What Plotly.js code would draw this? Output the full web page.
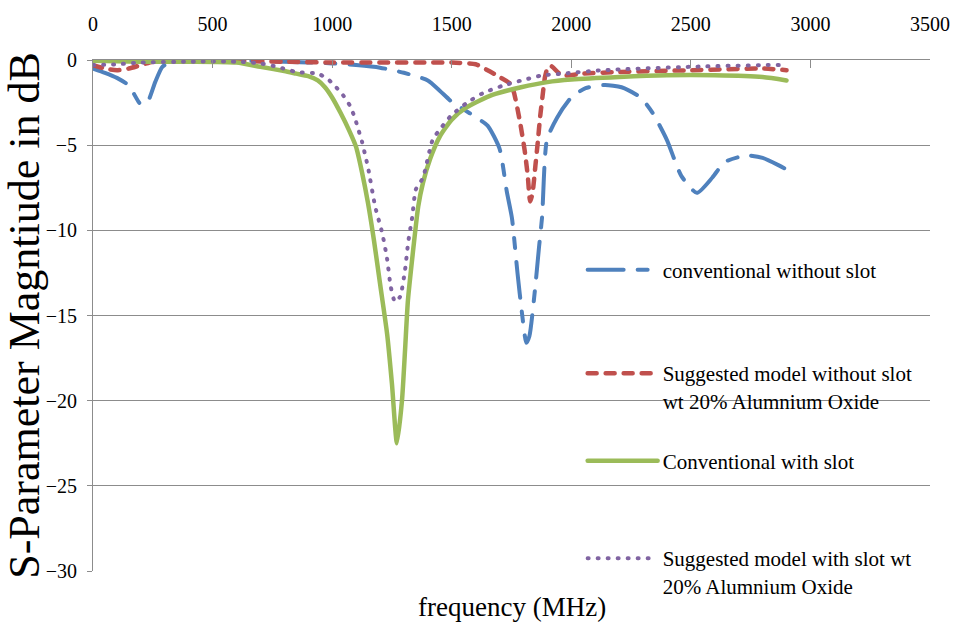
<!DOCTYPE html>
<html><head><meta charset="utf-8">
<script src="https://cdn.plot.ly/plotly-3.0.1.min.js"></script>
<style>
html,body{margin:0;padding:0;background:#fff;}
#chart{width:954px;height:630px;}
.js-line{stroke-linecap:round;}
</style>
</head><body><div id="chart"></div>
<script>
// conventional without slot
const freqA = [0,50,100,150,200,230,260,290,330,400,600,800,1000,1100,1200,1300,1400,1450,1500,1550,1600,1650,1700,1730,1752,1775,1795,1812,1825,1848,1865,1878,1898,1940,2000,2060,2140,2210,2290,2340,2400,2460,2525,2590,2640,2700,2740,2800,2870,2910];
const dbA   = [-0.5,-0.75,-1.05,-1.5,-2.6,-2.4,-1.3,-0.4,-0.1,-0.05,-0.05,-0.1,-0.2,-0.3,-0.45,-0.75,-1.2,-1.8,-2.45,-2.9,-3.35,-3.85,-5.2,-7.7,-9.3,-12.5,-15,-16.6,-16.2,-13.5,-11.0,-9.2,-4.7,-3.4,-2.2,-1.65,-1.47,-1.6,-2.2,-3.1,-4.7,-6.8,-7.8,-6.9,-6.0,-5.7,-5.6,-5.75,-6.2,-6.5];
// suggested model without slot
const freqB = [0,50,100,150,200,250,300,500,800,1000,1200,1400,1500,1600,1650,1700,1745,1760,1785,1805,1818,1828,1838,1850,1860,1870,1880,1890,1900,1915,1960,2050,2200,2500,2800,2900];
const dbB   = [-0.3,-0.5,-0.6,-0.5,-0.3,-0.1,-0.05,-0.05,-0.1,-0.15,-0.15,-0.15,-0.15,-0.25,-0.6,-1.0,-1.4,-1.9,-3.6,-5.3,-6.8,-8.3,-7.8,-6.2,-4.8,-3.3,-2.1,-1.0,-0.5,-0.35,-0.9,-0.8,-0.7,-0.6,-0.5,-0.6];
// conventional with slot
const freqC = [0,200,400,600,700,800,850,900,940,970,1000,1035,1070,1100,1125,1150,1175,1200,1230,1250,1271,1292,1305,1317,1340,1360,1380,1410,1450,1500,1560,1670,1790,1900,2000,2200,2400,2600,2800,2900];
const dbC   = [-0.05,-0.1,-0.1,-0.15,-0.4,-0.65,-0.8,-0.95,-1.2,-1.6,-2.2,-3.1,-4.1,-5.1,-6.6,-8.4,-10.6,-13.1,-16.1,-19,-22.5,-20,-17,-14.1,-11,-8.6,-7.2,-5.8,-4.5,-3.5,-2.8,-2.05,-1.6,-1.3,-1.15,-1.0,-0.9,-0.9,-1.0,-1.2];
// suggested model with slot
const freqD = [0,100,200,400,600,700,770,850,940,980,1010,1045,1075,1095,1110,1125,1140,1150,1180,1210,1230,1245,1263,1284,1305,1318,1335,1350,1380,1420,1460,1495,1565,1630,1715,1800,1880,1965,2130,2500,2870,2900];
const dbD   = [-0.3,-0.25,-0.15,-0.1,-0.1,-0.2,-0.4,-0.7,-0.8,-1.1,-1.5,-2.05,-2.7,-3.4,-4.1,-4.8,-5.7,-6.3,-8.6,-10.2,-11.7,-13.3,-14.2,-13.9,-12.3,-10.7,-9.2,-7.6,-6.9,-4.7,-3.9,-3.3,-2.5,-1.95,-1.5,-1.17,-0.9,-0.8,-0.6,-0.4,-0.3,-0.35];

const names = [
  'conventional without slot',
  'Suggested model without slot<br>wt 20% Alumnium Oxide',
  'Conventional with slot',
  'Suggested model with slot wt<br>20% Alumnium Oxide'
];
const xTicks = [0,500,1000,1500,2000,2500,3000,3500];
const yTicks = [-30,-25,-20,-15,-10,-5,0];
const xTitle = 'frequency (MHz)';
const yTitle = 'S-Parameter Magntiude in dB';

const serif = 'Liberation Serif, Times New Roman, serif';
const sm = 0.6;
const traces = [
  {x: freqA, y: dbA, name: names[0], legend: 'legend', mode: 'lines',
   line: {color: '#4F81BD', width: 4, dash: '36px,14px,10px,14px', shape: 'spline', smoothing: sm}},
  {x: freqB, y: dbB, name: names[1], legend: 'legend2', mode: 'lines',
   line: {color: '#C0504D', width: 4.5, dash: '9px,9px', shape: 'spline', smoothing: sm}},
  {x: freqC, y: dbC, name: names[2], legend: 'legend3', mode: 'lines',
   line: {color: '#9BBB59', width: 4.5, shape: 'spline', smoothing: sm}},
  {x: freqD, y: dbD, name: names[3], legend: 'legend4', mode: 'lines',
   line: {color: '#8064A2', width: 4, dash: '1px,9px', shape: 'spline', smoothing: sm}}
];

const legBase = {xanchor: 'left', yanchor: 'middle', bgcolor: 'rgba(0,0,0,0)', borderwidth: 0,
  font: {family: serif, size: 21, color: '#000'}, itemwidth: 70, valign: 'top', x: 0.585};
const layout = {
  width: 954, height: 630,
  margin: {l: 93, r: 24, t: 60, b: 59},
  paper_bgcolor: '#fff', plot_bgcolor: '#fff',
  font: {family: serif, color: '#000'},
  showlegend: true,
  xaxis: {
    range: [0, 3500], tickvals: xTicks, side: 'top',
    showgrid: false, zeroline: false, showline: true, linecolor: '#8c8c8c', linewidth: 1,
    ticks: 'inside', ticklen: 8, tickcolor: '#8c8c8c', ticklabelstandoff: 20,
    tickfont: {family: serif, size: 20, color: '#000'}
  },
  yaxis: {
    range: [-30, 0], tickvals: yTicks,
    showgrid: true, gridcolor: '#8c8c8c', gridwidth: 1, zeroline: false,
    showline: true, linecolor: '#8c8c8c', linewidth: 1,
    ticks: 'outside', ticklen: 5, tickcolor: '#8c8c8c', ticklabelstandoff: 6,
    tickfont: {family: serif, size: 20, color: '#000'},
    title: {text: yTitle, font: {family: serif, size: 44, color: '#000'}, standoff: 4}
  },
  annotations: [{
    text: xTitle, xref: 'paper', yref: 'paper', x: 0.5, y: -0.0705,
    xanchor: 'center', yanchor: 'middle', showarrow: false,
    font: {family: serif, size: 27, color: '#000'}
  }],
  legend:  Object.assign({}, legBase, {y: (571 - 270) / 511}),
  legend2: Object.assign({}, legBase, {y: (571 - 387) / 511}),
  legend3: Object.assign({}, legBase, {y: (571 - 461) / 511}),
  legend4: Object.assign({}, legBase, {y: (571 - 572) / 511})
};
Plotly.newPlot('chart', traces, layout, {displayModeBar: false, staticPlot: true});
</script>
</body></html>
